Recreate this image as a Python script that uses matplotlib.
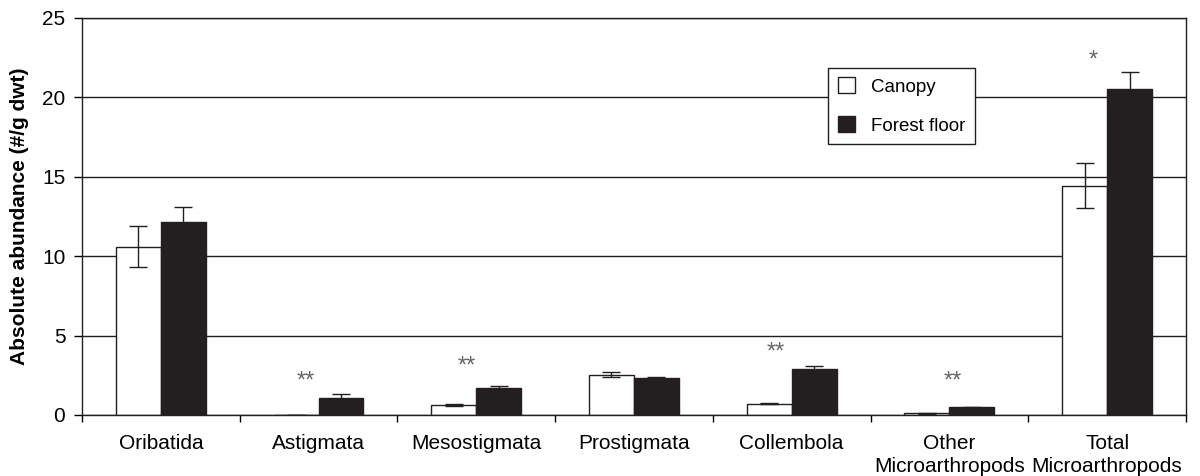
import numpy as np
import matplotlib.pyplot as plt

plt.rcParams['font.family'] = ['Liberation Sans', 'DejaVu Sans']

groups = ['Oribatida', 'Astigmata', 'Mesostigmata', 'Prostigmata', 'Collembola',
          'Other\nMicroarthropods', 'Total\nMicroarthropods']
canopy = [10.6, 0.02, 0.62, 2.54, 0.72, 0.1, 14.45]
canopy_err = [1.3, 0.0, 0.08, 0.15, 0.06, 0.03, 1.4]
floor = [12.15, 1.1, 1.72, 2.33, 2.9, 0.48, 20.5]
floor_err = [0.95, 0.22, 0.08, 0.08, 0.2, 0.03, 1.1]

# significance marks: (group index, label, height)
stars = [(1, '**', 2.1), (2, '**', 3.05), (4, '**', 3.95), (5, '**', 2.1), (6, '*', 22.3)]
star_shift = {1: -0.08, 2: -0.06, 4: -0.1, 5: 0.02, 6: -0.09}

fig = plt.figure(figsize=(12, 4.76), dpi=100)
ax = fig.add_axes([0.0683, 0.1282, 0.92, 0.834])

x = np.arange(len(groups))
w = 0.285
err_kw = dict(ecolor='#231f20', elinewidth=1.0, capsize=6.5, capthick=1.0)
ax.bar(x - w / 2, canopy, w, yerr=canopy_err, color='white', edgecolor='#231f20',
       linewidth=1.0, error_kw=err_kw, label='Canopy', zorder=2)
ax.bar(x + w / 2, floor, w, yerr=floor_err, color='#231f20', edgecolor='#231f20',
       linewidth=1.0, error_kw=err_kw, label='Forest floor', zorder=2)

for i, s, h in stars:
    ax.text(x[i] + star_shift[i], h, s, ha='center', va='center', fontsize=17,
            color='#666666')

ax.set_xlim(-0.5, len(groups) - 0.5)
ax.set_ylim(0, 25)
ax.set_yticks([0, 5, 10, 15, 20, 25])
ax.yaxis.grid(True, color='#231f20', linewidth=1.0)
ax.set_axisbelow(True)

ax.set_xticks(x)
ax.set_xticklabels(groups, fontsize=15, linespacing=1.3)
ax.set_xticks(np.arange(len(groups) + 1) - 0.5, minor=True)
ax.tick_params(axis='x', which='major', length=0, pad=13.5)
ax.tick_params(axis='x', which='minor', length=5, width=1.0, direction='out')
ax.tick_params(axis='y', length=6, width=1.0, direction='out', pad=6, labelsize=15)

for sp in ax.spines.values():
    sp.set_color('#231f20')
    sp.set_linewidth(1.0)

ax.set_ylabel('Absolute abundance (#/g dwt)', fontsize=15, fontweight='bold', labelpad=9)

leg = ax.legend(loc='upper left', bbox_to_anchor=(0.676, 0.874), borderaxespad=0,
                fontsize=13.5, fancybox=False, framealpha=1, edgecolor='#231f20',
                handlelength=0.9, handleheight=0.9, labelspacing=1.1,
                handletextpad=0.9, borderpad=0.5)
leg.get_frame().set_linewidth(1.0)

fig.savefig('out.png', dpi=100)
